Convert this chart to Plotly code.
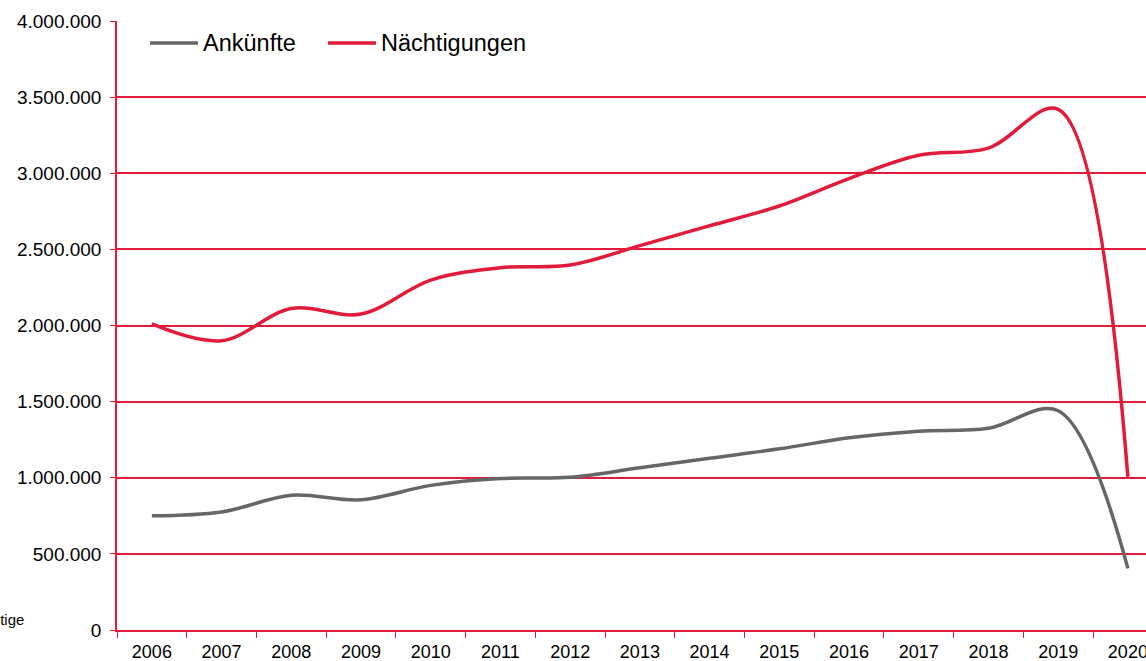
import plotly.graph_objects as go

years = ["2006", "2007", "2008", "2009", "2010", "2011", "2012", "2013",
         "2014", "2015", "2016", "2017", "2018", "2019", "2020"]
ankuenfte = [750000, 775000, 885000, 855000, 950000, 995000, 1003000, 1065000,
             1128000, 1190000, 1262000, 1305000, 1325000, 1440000, 405000]
naechtigungen = [2010000, 1900000, 2112000, 2075000, 2298000, 2380000, 2397000, 2525000,
                 2655000, 2785000, 2965000, 3118000, 3165000, 3420000, 1005000]
ytick_vals = [0, 500000, 1000000, 1500000, 2000000, 2500000, 3000000, 3500000, 4000000]
ytick_text = ["0", "500.000", "1.000.000", "1.500.000", "2.000.000", "2.500.000",
              "3.000.000", "3.500.000", "4.000.000"]
series_names = ["Ankünfte", "Nächtigungen"]

RED = "#E31B3A"
GRAY = "#666666"
FONT = "Liberation Sans, Arial, sans-serif"

W, H = 1146, 661
L, R, T, B = 117, 0, 21, 31
PW, PH = W - L - R, H - T - B


def px(x):
    return (x - L) / PW


def py(y):
    return (H - B - y) / PH


fig = go.Figure()
fig.add_trace(go.Scatter(x=years, y=ankuenfte, name=series_names[0], mode="lines",
                         line=dict(color=GRAY, width=3.5, shape="spline", smoothing=1)))
fig.add_trace(go.Scatter(x=years, y=naechtigungen, name=series_names[1], mode="lines",
                         line=dict(color=RED, width=3.5, shape="spline", smoothing=1)))

fig.update_layout(
    width=W, height=H,
    margin=dict(l=L, r=R, t=T, b=B, autoexpand=False),
    paper_bgcolor="white", plot_bgcolor="white",
    font=dict(family=FONT, size=18, color="#000000"),
    showlegend=False,
)
fig.update_xaxes(type="category", range=[-0.5, 14.26], tickson="boundaries",
                 ticks="outside", ticklen=6, tickcolor=RED, tickwidth=1,
                 showline=True, linecolor=RED, linewidth=2, showgrid=False,
                 tickfont=dict(size=18, family=FONT, color="#000000"),
                 ticklabelstandoff=4,
                 zeroline=False, automargin=False)
fig.update_yaxes(range=[0, 4000000], tickvals=ytick_vals, ticktext=ytick_text,
                 ticks="outside", ticklen=5, tickcolor=RED, tickwidth=1,
                 showline=True, linecolor=RED, linewidth=1.5,
                 showgrid=True, gridcolor=RED, gridwidth=1.5, zeroline=False,
                 tickfont=dict(size=19, family=FONT, color="#000000"),
                 ticklabelstandoff=5,
                 automargin=False)

# legend (drawn manually to match the reference layout)
for (x0, x1, col, name, tx) in [(150, 198, GRAY, series_names[0], 201),
                                (328, 376, RED, series_names[1], 379)]:
    fig.add_shape(type="line", xref="paper", yref="paper",
                  x0=px(x0), x1=px(x1), y0=py(43), y1=py(43),
                  line=dict(color=col, width=3.5))
    fig.add_annotation(text=name, xref="paper", yref="paper", x=px(tx), y=py(43),
                       xanchor="left", yanchor="middle", showarrow=False,
                       font=dict(size=23.5, family=FONT, color="#000000"))

fig.add_annotation(text="Sonstige", xref="paper", yref="paper",
                   x=px(26), y=py(619),
                   xanchor="right", yanchor="middle", showarrow=False,
                   font=dict(size=15, family=FONT, color="#000000"))

fig.write_html("out.html", config={"displayModeBar": False},
               post_script="document.body.style.margin='0px';")
